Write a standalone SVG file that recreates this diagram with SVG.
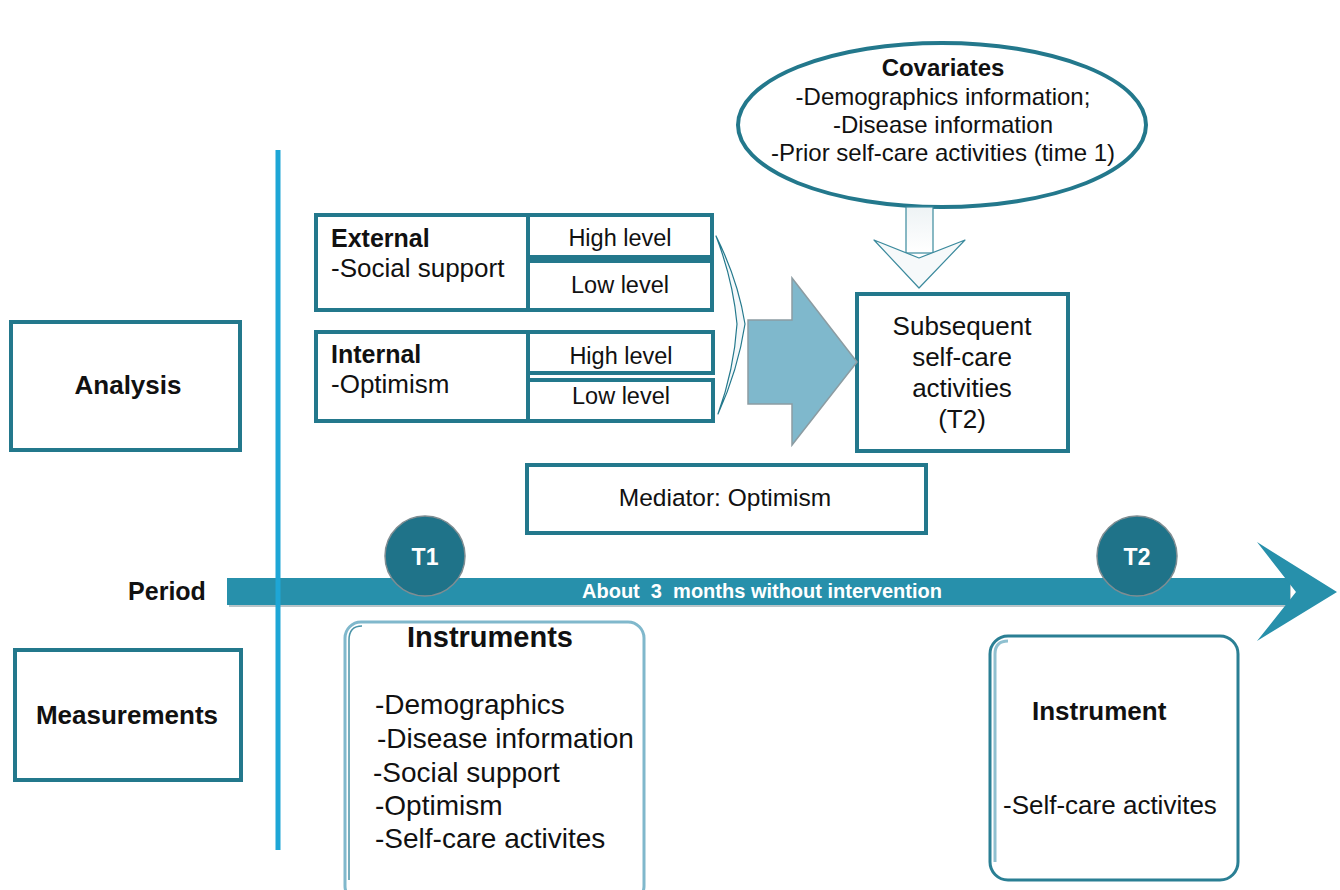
<svg xmlns="http://www.w3.org/2000/svg" width="1340" height="890" viewBox="0 0 1340 890">
<defs>
<style>
.box{fill:#ffffff;stroke:#23788c;stroke-width:4}
.t{font-family:"Liberation Sans",Arial,sans-serif;fill:#111111}
.b{font-weight:bold}
.w{fill:#ffffff;font-weight:bold}
.c{text-anchor:middle}
</style>
<linearGradient id="gArrow" x1="0" y1="0" x2="0" y2="1">
<stop offset="0" stop-color="#eef3f5"/><stop offset="1" stop-color="#ffffff"/>
</linearGradient>
</defs>
<rect width="1340" height="890" fill="#ffffff"/>

<g id="covariates">
<ellipse cx="942" cy="125" rx="204" ry="82" fill="#ffffff" stroke="#23788c" stroke-width="4"/>
<text class="t b c" x="943" y="76" font-size="24">Covariates</text>
<text class="t c" x="943" y="105" font-size="24">-Demographics information;</text>
<text class="t c" x="943" y="133" font-size="24">-Disease information</text>
<text class="t c" x="943" y="161" font-size="24">-Prior self-care activities (time 1)</text>
</g>

<g id="analysis">
<rect class="box" x="11" y="322" width="229" height="128"/>
<text class="t b c" x="128" y="394" font-size="26">Analysis</text>
</g>

<g id="measurements">
<rect class="box" x="15" y="650" width="226" height="130"/>
<text class="t b c" x="127" y="724" font-size="26">Measurements</text>
</g>

<g id="period">
<text class="t b c" x="167" y="600" font-size="25">Period</text>
</g>

<g id="external">
<rect class="box" x="316" y="215" width="212" height="95"/>
<rect class="box" x="528" y="215" width="184" height="42"/>
<rect class="box" x="528" y="261" width="184" height="49"/>
<text class="t b" x="331" y="247" font-size="25">External</text>
<text class="t" x="331" y="277" font-size="26">-Social support</text>
<text class="t c" x="620" y="246" font-size="23.5">High level</text>
<text class="t c" x="620" y="293" font-size="23.5">Low level</text>
</g>

<g id="internal">
<rect class="box" x="316" y="332" width="212" height="89"/>
<rect class="box" x="528" y="332" width="185" height="41"/>
<rect class="box" x="528" y="380" width="185" height="41"/>
<text class="t b" x="331" y="363" font-size="25">Internal</text>
<text class="t" x="331" y="393" font-size="26">-Optimism</text>
<text class="t c" x="621" y="364" font-size="23.5">High level</text>
<text class="t c" x="621" y="404" font-size="23.5">Low level</text>
</g>

<g id="subsequent">
<rect class="box" x="857" y="294" width="211" height="157"/>
<text class="t c" x="962" y="335" font-size="26">Subsequent</text>
<text class="t c" x="962" y="366" font-size="26">self-care</text>
<text class="t c" x="962" y="397" font-size="26">activities</text>
<text class="t c" x="962" y="428" font-size="26">(T2)</text>
</g>

<g id="mediator">
<rect class="box" x="527" y="465" width="399" height="68"/>
<text class="t c" x="725" y="506" font-size="24.5">Mediator: Optimism</text>
</g>

<g id="connectors">
<path d="M716,236 Q738,280 745,324 Q738,370 718,414 Q734,370 737,324 Q733,280 716,236 Z" fill="#f4f8fa" stroke="#23788c" stroke-width="1.2" stroke-linejoin="round"/>
<polygon points="748,320 792,320 792,278 857,362 792,445 792,404 748,404" fill="#7fb8cc" stroke="#8c9ca2" stroke-width="1.5"/>
<rect x="906" y="207" width="27" height="46" fill="url(#gArrow)" stroke="#3b8a9d" stroke-width="1.2"/>
<polygon points="874,240 919,258 965,240 919,288" fill="#f6f9fa" stroke="#3b8a9d" stroke-width="1.2" stroke-linejoin="round"/>
<rect x="229" y="580" width="1062" height="27" fill="#b8c4c8"/>
<rect x="227" y="578" width="1063" height="27" fill="#2790ab"/>
<polygon points="1257,542 1337,592 1257,641 1296,592" fill="#2790ab"/>
<line x1="278" y1="150" x2="278" y2="850" stroke="#1ea6d6" stroke-width="5"/>
<text class="t w c" x="762" y="598" font-size="20" xml:space="preserve">About  3  months without intervention</text>
</g>

<g id="t1">
<circle cx="425" cy="556" r="40" fill="#1f7389" stroke="#7f8d92" stroke-width="1.5"/>
<text class="t w c" x="425" y="565" font-size="23">T1</text>
</g>

<g id="t2">
<circle cx="1137" cy="556" r="40" fill="#1f7389" stroke="#7f8d92" stroke-width="1.5"/>
<text class="t w c" x="1137" y="565" font-size="23">T2</text>
</g>

<g id="instruments">
<rect x="345" y="622" width="299" height="280" rx="16" fill="#ffffff" stroke="#80b8cc" stroke-width="3"/>
<path d="M349,880 V640 Q349,626 362,626" fill="none" stroke="#4a93a7" stroke-width="1.5"/>
<text class="t b c" x="490" y="647" font-size="29">Instruments</text>
<text class="t" x="375" y="714" font-size="28">-Demographics</text>
<text class="t" x="377" y="748" font-size="28">-Disease information</text>
<text class="t" x="373" y="782" font-size="28">-Social support</text>
<text class="t" x="375" y="815" font-size="28">-Optimism</text>
<text class="t" x="375" y="848" font-size="28">-Self-care activites</text>
</g>

<g id="instrument">
<rect x="990" y="636" width="248" height="244" rx="18" fill="#ffffff" stroke="#2a7f94" stroke-width="3"/>
<path d="M995,862 V654 Q995,641 1008,641" fill="none" stroke="#8fc0d0" stroke-width="3"/>
<text class="t b" x="1032" y="720" font-size="26">Instrument</text>
<text class="t" x="1003" y="814" font-size="26">-Self-care activites</text>
</g>
</svg>
